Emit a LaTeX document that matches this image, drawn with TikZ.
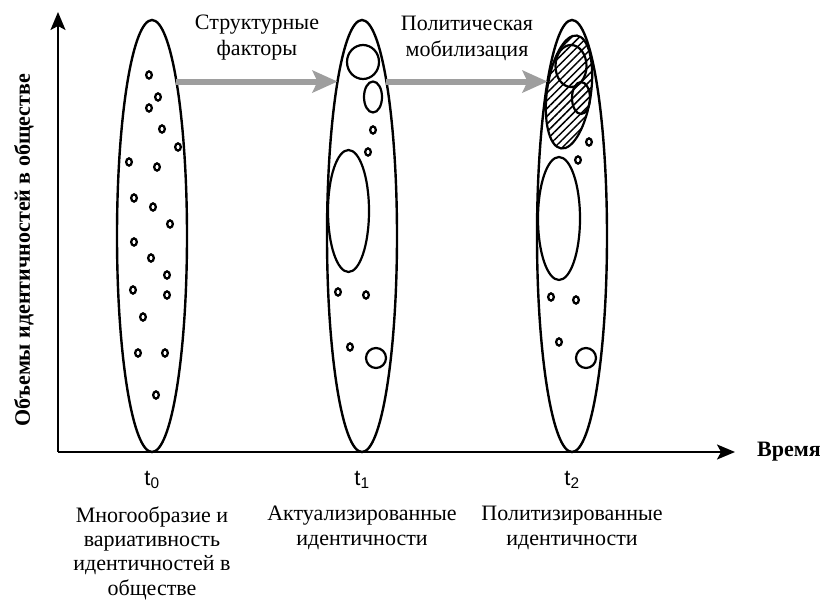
\documentclass[tikz,border=0pt]{standalone}
\usepackage{fontspec}
\setmainfont{Liberation Serif}
\setsansfont{Liberation Sans}
\usetikzlibrary{shapes.geometric, arrows.meta, positioning, patterns.meta}
\definecolor{flowgray}{HTML}{9E9E9E}
\tikzset{
    period/.style={ellipse, draw=black, line width=2.4pt, minimum width=70pt, minimum height=432pt, inner sep=0pt, outer sep=0pt},
    group/.style={draw=black, line width=2.2pt},
    hatched/.style={group, pattern={Lines[angle=45, distance=5.5pt, line width=1.5pt]}},
    dot/.style={draw=black, line width=2.3pt},
    axis/.style={-{Stealth[length=18pt, width=15pt, inset=4pt]}, line width=2pt},
    flow/.style={-{Stealth[length=25pt, width=22pt, inset=5pt]}, line width=6pt, draw=flowgray},
    tlabel/.style={font=\sffamily\fontsize{22}{22}\selectfont, inner sep=0pt},
    caption/.style={align=center, font=\fontsize{22}{24.4}\selectfont, inner sep=0pt},
    flowtext/.style={align=center, font=\fontsize{22}{26}\selectfont, inner sep=0pt},
    axistext/.style={font=\bfseries\fontsize{22}{22}\selectfont, inner sep=0pt},
}
\begin{document}
\begin{tikzpicture}[x=1pt, y=-1pt]
    \useasboundingbox (0,0) rectangle (820,601);

    % Axes
    \coordinate (origin) at (58,452);
    \coordinate (ytop) at (58,12);
    \coordinate (xend) at (735,452);
    \draw[axis] (origin) -- (ytop);
    \draw[axis] (origin) -- (xend);
    \node[axistext, rotate=90] (ylabel) at (24,250) {Объемы идентичностей в обществе};
    \node[axistext, anchor=west] (xlabel) at (757,452) {Время};

    % Periods
    \node[period] (p0) at (152,236) {};
    \node[period] (p1) at (362,236) {};
    \node[period] (p2) at (572,236) {};

    % t0: scattered identities
    \foreach \x/\y in {149/75, 158/97, 149/108, 162/129, 178/147, 129/162, 157/167, 134/198, 153/207, 170/224,
                       134/242, 151/258, 167/275, 133/290, 167/295, 143/317, 138/353, 165/353, 156/395}
        \draw[dot] (\x,\y) ellipse (2.8 and 3.6);

    % t1: actualized identities
    \draw[group] (363,62) ellipse (16 and 17);
    \draw[group] (373,97) ellipse (9 and 15.5);
    \draw[group] (348.5,211) ellipse (20.5 and 61);
    \draw[group] (376,358) circle (10);
    \foreach \x/\y in {373/130, 368/152, 338/292, 366/295, 350/347}
        \draw[dot] (\x,\y) ellipse (2.8 and 3.6);

    % t2: politicized identities
    \draw[hatched, rotate around={-8:(569,92)}] (569,92) ellipse (22 and 57);
    \draw[group] (571,66) ellipse (15.5 and 21);
    \draw[group] (581,98) ellipse (9 and 16);
    \draw[group] (559,218.5) ellipse (21 and 61.5);
    \draw[group] (586,358) circle (10);
    \foreach \x/\y in {589/142, 578/160, 551/297, 576/300, 559/342}
        \draw[dot] (\x,\y) ellipse (2.8 and 3.6);

    % Transitions
    \draw[flow] (p0.81) -- node[flowtext, above=18pt] (f0) {Структурные\\факторы} (p1.99);
    \draw[flow] (p1.81) -- node[flowtext, above=18pt] (f1) {Политическая\\мобилизация} (p2.99);

    % Time labels
    \node[tlabel] (t0) at (152,480) {t\textsubscript{0}};
    \node[tlabel] (t1) at (362,480) {t\textsubscript{1}};
    \node[tlabel] (t2) at (572,480) {t\textsubscript{2}};

    \node[caption, below=17pt of t0] (c0) {Многообразие и\\вариативность\\идентичностей в\\обществе};
    \node[caption, below=17pt of t1] (c1) {Актуализированные\\идентичности};
    \node[caption, below=17pt of t2] (c2) {Политизированные\\идентичности};
\end{tikzpicture}
\end{document}
